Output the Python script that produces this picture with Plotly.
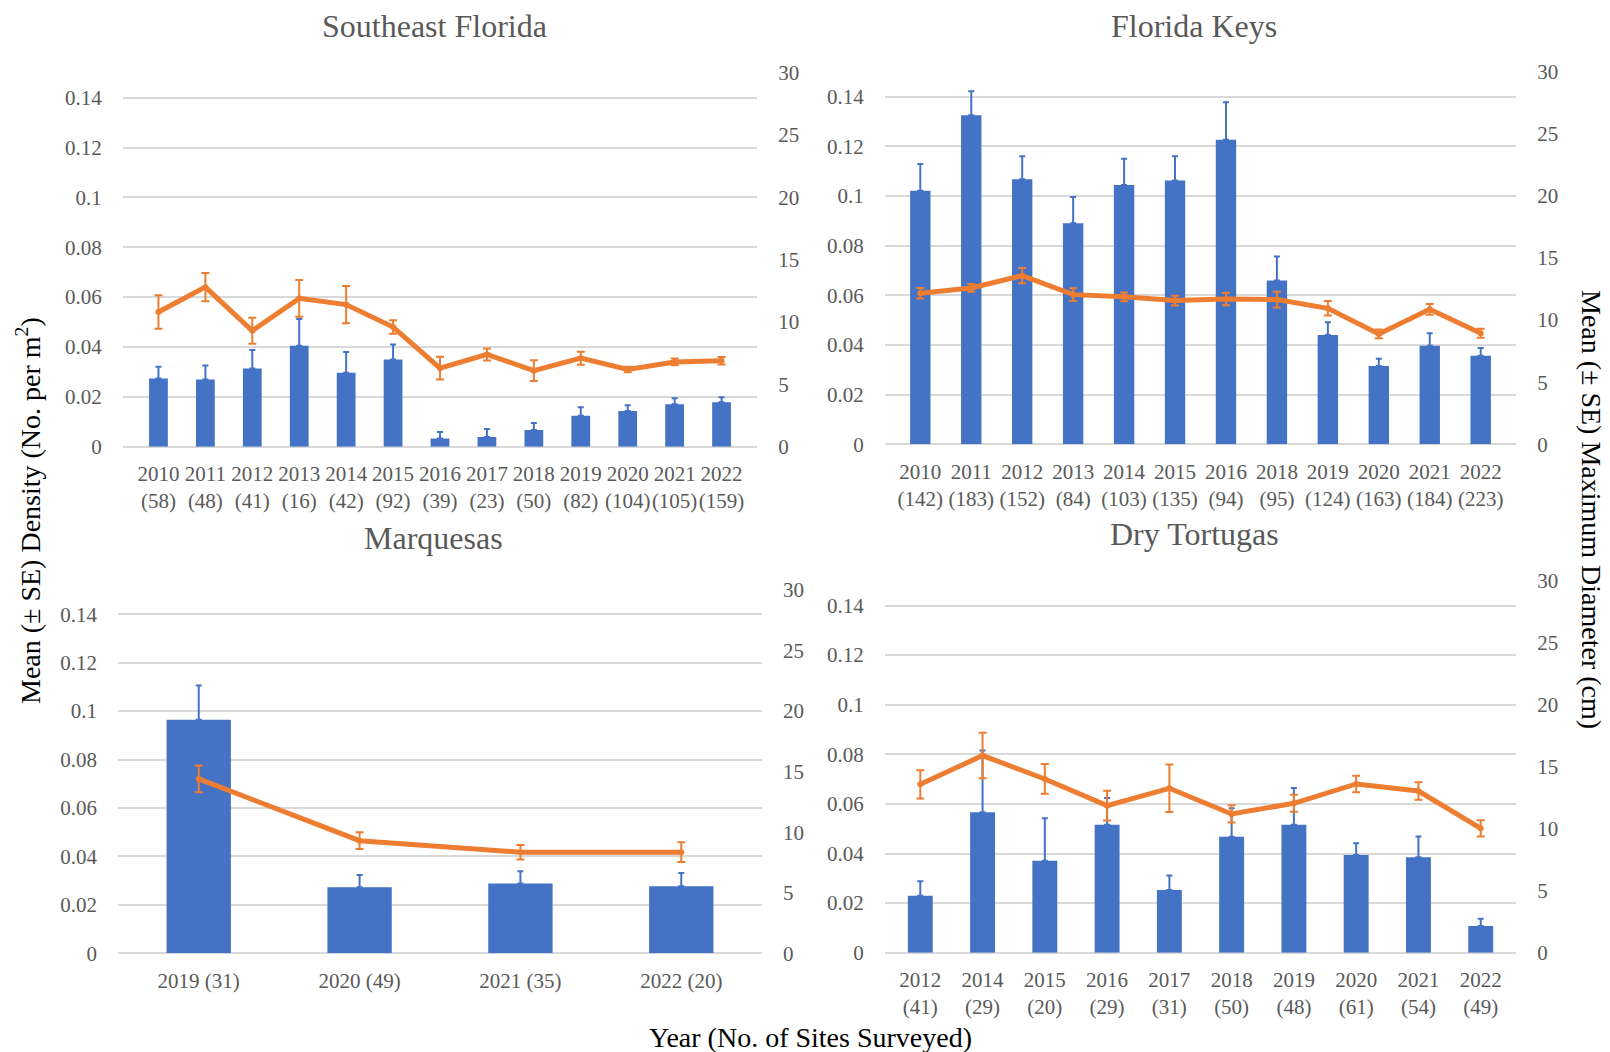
import plotly.graph_objects as go

W, H = 1610, 1052
FONT = "Liberation Serif, Times New Roman, serif"
GRAY = "#595959"
BLUE = "#4472C4"
ORANGE = "#ED7D31"
GRID = "#D9D9D9"

# Southeast Florida
sef_years = ["2010", "2011", "2012", "2013", "2014", "2015", "2016", "2017", "2018", "2019", "2020", "2021", "2022"]
sef_sites = [58, 48, 41, 16, 42, 92, 39, 23, 50, 82, 104, 105, 159]
sef_density = [0.0274, 0.0270, 0.0314, 0.0405, 0.0297, 0.0350, 0.0033, 0.0039, 0.0067, 0.0124, 0.0143, 0.0170, 0.0178]
sef_density_se = [0.0047, 0.0056, 0.0074, 0.0107, 0.0083, 0.0060, 0.0026, 0.0032, 0.0028, 0.0034, 0.0023, 0.0024, 0.0020]
sef_diam = [10.8, 12.8, 9.3, 11.9, 11.4, 9.6, 6.3, 7.4, 6.1, 7.1, 6.2, 6.8, 6.9]
sef_diam_se = [1.34, 1.14, 1.04, 1.48, 1.50, 0.54, 0.91, 0.48, 0.83, 0.52, 0.22, 0.27, 0.30]

# Florida Keys
fk_years = ["2010", "2011", "2012", "2013", "2014", "2015", "2016", "2018", "2019", "2020", "2021", "2022"]
fk_sites = [142, 183, 152, 84, 103, 135, 94, 95, 124, 163, 184, 223]
fk_density = [0.1021, 0.1325, 0.1067, 0.0890, 0.1044, 0.1062, 0.1226, 0.0659, 0.0440, 0.0315, 0.0397, 0.0356]
fk_density_se = [0.0107, 0.0096, 0.0093, 0.0106, 0.0106, 0.0098, 0.0151, 0.0097, 0.0051, 0.0029, 0.0050, 0.0032]
fk_diam = [12.16, 12.59, 13.58, 12.05, 11.87, 11.57, 11.70, 11.65, 10.95, 8.89, 10.87, 8.94]
fk_diam_se = [0.42, 0.31, 0.62, 0.52, 0.36, 0.40, 0.50, 0.63, 0.58, 0.35, 0.43, 0.36]

# Marquesas
mq_years = ["2019", "2020", "2021", "2022"]
mq_sites = [31, 49, 35, 20]
mq_density = [0.0964, 0.0273, 0.0288, 0.0277]
mq_density_se = [0.0142, 0.0050, 0.0051, 0.0055]
mq_diam = [14.4, 9.3, 8.35, 8.35]
mq_diam_se = [1.11, 0.69, 0.60, 0.82]

# Dry Tortugas
dt_years = ["2012", "2014", "2015", "2016", "2017", "2018", "2019", "2020", "2021", "2022"]
dt_sites = [41, 29, 20, 29, 31, 50, 48, 61, 54, 49]
dt_density = [0.0230, 0.0566, 0.0371, 0.0516, 0.0253, 0.0468, 0.0516, 0.0394, 0.0385, 0.0108]
dt_density_se = [0.0058, 0.0249, 0.0171, 0.0108, 0.0058, 0.0114, 0.0148, 0.0047, 0.0084, 0.0029]
dt_diam = [13.58, 15.90, 14.01, 11.86, 13.26, 11.19, 12.05, 13.61, 13.04, 10.03]
dt_diam_se = [1.14, 1.83, 1.20, 1.20, 1.91, 0.70, 0.68, 0.67, 0.71, 0.65]


def px_x(a, b):
    return [a / W, b / W]


def px_y(top, bottom):
    return [1 - bottom / H, 1 - top / H]


panels = [
    dict(title="Southeast Florida", years=sef_years, sites=sef_sites, dens=sef_density, dens_se=sef_density_se,
         diam=sef_diam, diam_se=sef_diam_se, sep="<br>",
         xd=px_x(123, 757), yd=px_y(72.7, 446.7), tpos=(434, 26)),
    dict(title="Florida Keys", years=fk_years, sites=fk_sites, dens=fk_density, dens_se=fk_density_se,
         diam=fk_diam, diam_se=fk_diam_se, sep="<br>",
         xd=px_x(885, 1516), yd=px_y(71.7, 444.3), tpos=(1194, 26)),
    dict(title="Marquesas", years=mq_years, sites=mq_sites, dens=mq_density, dens_se=mq_density_se,
         diam=mq_diam, diam_se=mq_diam_se, sep=" ",
         xd=px_x(118.3, 761.7), yd=px_y(590, 953.3), tpos=(433, 538)),
    dict(title="Dry Tortugas", years=dt_years, sites=dt_sites, dens=dt_density, dens_se=dt_density_se,
         diam=dt_diam, diam_se=dt_diam_se, sep="<br>",
         xd=px_x(885, 1516), yd=px_y(580.7, 952.7), tpos=(1194, 534)),
]

tickfont = dict(family=FONT, size=21, color=GRAY)
fig = go.Figure()
layout = dict(
    width=W, height=H, autosize=False,
    margin=dict(l=0, r=0, t=0, b=0, autoexpand=False),
    paper_bgcolor="white", plot_bgcolor="white",
    showlegend=False, bargap=0.6,
    font=dict(family=FONT, color=GRAY),
)
annotations = []

for i, p in enumerate(panels, start=1):
    xid = "x" if i == 1 else f"x{i}"
    yl = 2 * i - 1
    yr = 2 * i
    ylid = "y" if yl == 1 else f"y{yl}"
    yrid = f"y{yr}"
    cats = [f"{y}{p['sep']}({n})" for y, n in zip(p["years"], p["sites"])]

    # density bars with upper standard-error whiskers
    fig.add_trace(go.Bar(
        x=cats, y=p["dens"], xaxis=xid, yaxis=ylid,
        marker=dict(color=BLUE, line=dict(width=0)),
        error_y=dict(type="data", symmetric=False, array=p["dens_se"],
                     arrayminus=[0] * len(p["dens"]), color=BLUE, thickness=2, width=3),
    ))
    # maximum diameter line on the secondary axis
    fig.add_trace(go.Scatter(
        x=cats, y=p["diam"], xaxis=xid, yaxis=yrid, mode="lines+markers",
        line=dict(color=ORANGE, width=5),
        marker=dict(color=ORANGE, size=6),
        error_y=dict(type="data", array=p["diam_se"], color=ORANGE, thickness=2, width=4),
    ))

    xkey = "xaxis" if i == 1 else f"xaxis{i}"
    ylkey = "yaxis" if yl == 1 else f"yaxis{yl}"
    yrkey = f"yaxis{yr}"
    layout[xkey] = dict(
        domain=p["xd"], anchor=ylid, type="category",
        showgrid=False, showline=False, zeroline=False,
        ticks="outside", ticklen=8, tickcolor="rgba(0,0,0,0)",
        tickfont=tickfont, tickangle=0, automargin=False,
    )
    layout[ylkey] = dict(
        domain=p["yd"], anchor=xid, range=[0, 0.15], tick0=0, dtick=0.02,
        showgrid=True, gridcolor=GRID, gridwidth=2,
        zeroline=True, zerolinecolor=GRID, zerolinewidth=2, showline=False,
        ticks="outside", ticklen=16, tickcolor="rgba(0,0,0,0)",
        tickfont=tickfont, automargin=False,
    )
    layout[yrkey] = dict(
        overlaying=ylid, anchor=xid, side="right", range=[0, 30], tick0=0, dtick=5,
        showgrid=False, zeroline=False, showline=False,
        ticks="outside", ticklen=16, tickcolor="rgba(0,0,0,0)",
        tickfont=tickfont, automargin=False,
    )
    tx, ty = p["tpos"]
    annotations.append(dict(
        text=p["title"], x=tx / W, y=1 - ty / H, xref="paper", yref="paper",
        xanchor="center", yanchor="middle", showarrow=False,
        font=dict(family=FONT, size=32, color=GRAY),
    ))

axis_title_font = dict(family=FONT, size=28, color="#000000")
annotations += [
    dict(text="Mean (± SE) Density (No. per m<sup>2</sup>)", x=28 / W, y=1 - 511 / H,
         xref="paper", yref="paper", xanchor="center", yanchor="middle",
         textangle=-90, showarrow=False, font=axis_title_font),
    dict(text="Mean (± SE) Maximum Diameter (cm)", x=1591 / W, y=1 - 509 / H,
         xref="paper", yref="paper", xanchor="center", yanchor="middle",
         textangle=90, showarrow=False, font=axis_title_font),
    dict(text="Year (No. of Sites Surveyed)", x=811 / W, y=1 - 1037 / H,
         xref="paper", yref="paper", xanchor="center", yanchor="middle",
         showarrow=False, font=axis_title_font),
]
layout["annotations"] = annotations
fig.update_layout(**layout)
fig.write_html("out.html")
